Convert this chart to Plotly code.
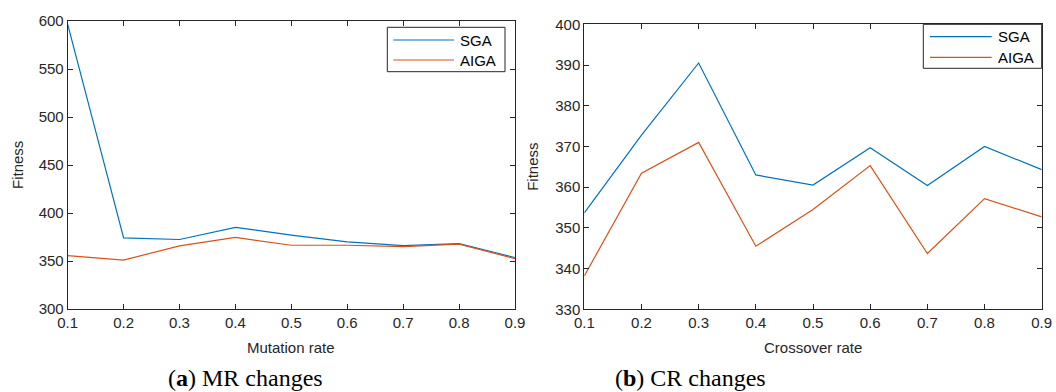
import plotly.graph_objects as go

# ---- data ----
rates = [0.1, 0.2, 0.3, 0.4, 0.5, 0.6, 0.7, 0.8, 0.9]
mr_sga = [596.5, 374, 372.4, 385, 377, 370, 366, 368, 353.6]
mr_aiga = [355.7, 351, 365.8, 374.5, 366.4, 366.4, 365, 367.5, 352.5]
cr_sga = [353.7, 372.8, 390.5, 363.0, 360.5, 369.7, 360.4, 370.0, 364.3]
cr_aiga = [338.2, 363.4, 371.0, 345.5, 354.5, 365.3, 343.7, 357.2, 352.7]
series_names = ["SGA", "AIGA"]
x_titles = ["Mutation rate", "Crossover rate"]
captions = ["(<b>a</b>) MR changes", "(<b>b</b>) CR changes"]

W, H = 1056, 392
BLUE = "#0072BD"
ORANGE = "#D95319"
AX = "#262626"
SANS = "Liberation Sans, Arial, sans-serif"

def px(x):
    return x / W

def py(y):
    return 1 - y / H

fig = go.Figure()
for xa, ya, s, a in [("x", "y", mr_sga, mr_aiga), ("x2", "y2", cr_sga, cr_aiga)]:
    fig.add_trace(go.Scatter(x=rates, y=s, name=series_names[0], mode="lines",
                             line=dict(color=BLUE, width=1.2), xaxis=xa, yaxis=ya, showlegend=False))
    fig.add_trace(go.Scatter(x=rates, y=a, name=series_names[1], mode="lines",
                             line=dict(color=ORANGE, width=1.2), xaxis=xa, yaxis=ya, showlegend=False))

tickfont = dict(family=SANS, size=15, color=AX)
common = dict(showline=True, linecolor=AX, linewidth=1, mirror="ticks", ticks="inside",
              ticklen=5, tickcolor=AX, showgrid=False, zeroline=False, tickfont=tickfont,
              automargin=False)

# plot areas (pixels)
L = dict(x0=67.7, x1=515, y0=21, y1=309)
R = dict(x0=584.3, x1=1041.7, y0=24.3, y1=309.3)

fig.update_layout(
    width=W, height=H, margin=dict(l=0, r=0, t=0, b=0), autosize=False,
    paper_bgcolor="white", plot_bgcolor="white",
    xaxis=dict(domain=[px(L["x0"]), px(L["x1"])], range=[0.1, 0.9], dtick=0.1, tick0=0.1,
               anchor="y", **common),
    yaxis=dict(domain=[py(L["y1"]), py(L["y0"])], range=[300, 600], dtick=50,
               anchor="x", **common),
    xaxis2=dict(domain=[px(R["x0"]), px(R["x1"])], range=[0.1, 0.9], dtick=0.1, tick0=0.1,
                anchor="y2", **common),
    yaxis2=dict(domain=[py(R["y1"]), py(R["y0"])], range=[330, 400], dtick=10,
                anchor="x2", **common),
)

shapes = []
annotations = []

# custom legends
legends = [
    dict(box=(387.3, 27.3, 505, 71.7), lx=(393.3, 454), ly=(40, 60), tx=458),
    dict(box=(923.3, 24.3, 1041.7, 68.3), lx=(930, 991.7), ly=(36.7, 57.3), tx=995.5),
]
for lg in legends:
    bx0, by0, bx1, by1 = lg["box"]
    shapes.append(dict(type="rect", xref="paper", yref="paper", x0=px(bx0), x1=px(bx1),
                       y0=py(by1), y1=py(by0), line=dict(color=AX, width=1), fillcolor="white"))
    for name, col, yy in zip(series_names, [BLUE, ORANGE], lg["ly"]):
        shapes.append(dict(type="line", xref="paper", yref="paper", x0=px(lg["lx"][0]),
                           x1=px(lg["lx"][1]), y0=py(yy), y1=py(yy), line=dict(color=col, width=1.2)))
        annotations.append(dict(text=name, xref="paper", yref="paper", x=px(lg["tx"]), y=py(yy),
                                xanchor="left", yanchor="middle", showarrow=False,
                                font=dict(family=SANS, size=15, color="black")))

# axis titles
for (cx, cy, t) in [((L["x0"] + L["x1"]) / 2, 347, x_titles[0]), ((R["x0"] + R["x1"]) / 2, 347, x_titles[1])]:
    annotations.append(dict(text=t, xref="paper", yref="paper", x=px(cx), y=py(cy),
                            xanchor="center", yanchor="middle", showarrow=False,
                            font=dict(family=SANS, size=15, color=AX)))
for (cx, cy) in [(17, (L["y0"] + L["y1"]) / 2), (533, (R["y0"] + R["y1"]) / 2)]:
    annotations.append(dict(text="Fitness", xref="paper", yref="paper", x=px(cx), y=py(cy),
                            xanchor="center", yanchor="middle", textangle=-90, showarrow=False,
                            font=dict(family=SANS, size=15, color=AX)))

# captions
for (cx, t) in [(245, captions[0]), (690, captions[1])]:
    annotations.append(dict(text=t, xref="paper", yref="paper", x=px(cx), y=py(378),
                            xanchor="center", yanchor="middle", showarrow=False,
                            font=dict(family="Liberation Serif, Times New Roman, serif", size=24, color="black")))

fig.update_layout(shapes=shapes, annotations=annotations)
fig.write_html("out.html", config={"displayModeBar": False},
               post_script="document.body.style.margin='0';document.body.style.overflow='hidden';")
